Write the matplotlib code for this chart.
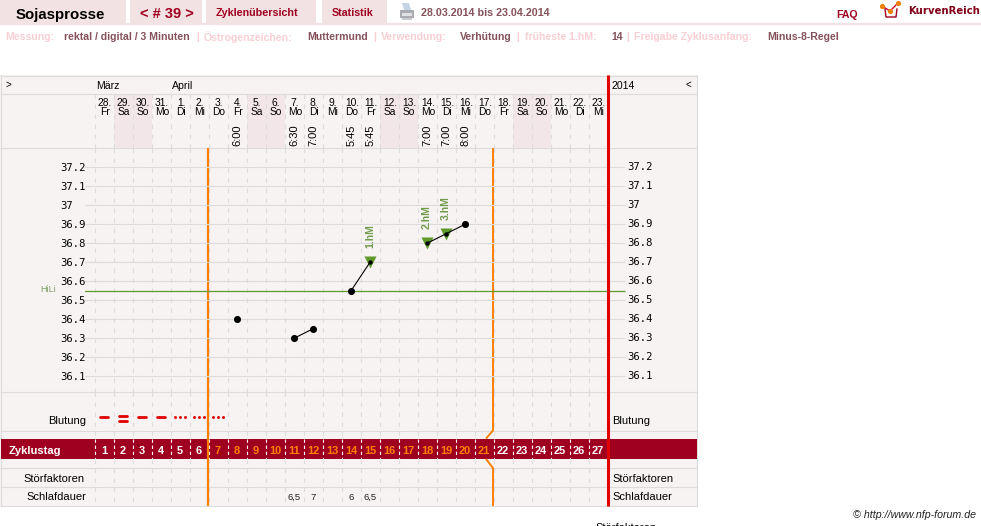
import matplotlib
matplotlib.use("Agg")
import matplotlib.pyplot as plt
from matplotlib.patches import Rectangle, Polygon

W, H = 981, 526
SANS = "Liberation Sans"
MONO = "DejaVu Sans Mono"
MAROON = "#a00020"
DUSTY = "#85525a"
PALE = "#f8cfd2"
TAB = "#f3e2e4"
PANEL = "#f8f3f3"
WEEKEND = "#f3e6e8"
GRID = "#dcdcdc"
ORANGE = "#ff8000"
RED = "#e00000"
GREEN = "#5f9a2a"

# Cycle data
dates = ["28.", "29.", "30.", "31.", "1.", "2.", "3.", "4.", "5.", "6.", "7.", "8.", "9.", "10.",
         "11.", "12.", "13.", "14.", "15.", "16.", "17.", "18.", "19.", "20.", "21.", "22.", "23."]
weekdays = ["Fr", "Sa", "So", "Mo", "Di", "Mi", "Do", "Fr", "Sa", "So", "Mo", "Di", "Mi", "Do",
            "Fr", "Sa", "So", "Mo", "Di", "Mi", "Do", "Fr", "Sa", "So", "Mo", "Di", "Mi"]
cycle_days = list(range(1, 28))
temp_ticks = [37.2, 37.1, 37.0, 36.9, 36.8, 36.7, 36.6, 36.5, 36.4, 36.3, 36.2, 36.1]
temp_labels = ["37.2", "37.1", "37", "36.9", "36.8", "36.7", "36.6", "36.5", "36.4", "36.3", "36.2", "36.1"]
temp_days = [8, 11, 12, 14, 15, 18, 19, 20]
temp_values = [36.4, 36.3, 36.35, 36.55, 36.7, 36.8, 36.85, 36.9]
temp_segments = [(11, 12), (14, 15), (18, 19, 20)]
time_days = [8, 11, 12, 14, 15, 18, 19, 20]
time_labels = ["6:00", "6:30", "7:00", "5:45", "5:45", "7:00", "7:00", "8:00"]
peak_days = [15, 18, 19]
peak_values = [36.7, 36.8, 36.85]
peak_labels = ["1.hM", "2.hM", "3.hM"]
hili = 36.55
sleep_days = [11, 12, 14, 15]
sleep_labels = ["6,5", "7", "6", "6,5"]
heavy_days = [1, 3, 4]
double_days = [2]
spot_days = [5, 6, 7]
orange_days = range(7, 22)

fig = plt.figure(figsize=(W / 100, H / 100), dpi=100, facecolor="white")

# Page layer in pixel units
page = fig.add_axes([0, 0, 1, 1])
page.set_xlim(0, W)
page.set_ylim(H, 0)
page.axis("off")


def box(x0, y0, x1, y1, color, z=1):
    page.add_patch(Rectangle((x0, y0), x1 - x0, y1 - y0, fc=color, ec="none", zorder=z))


def hline(y, x0, x1, color=GRID, lw=0.8, z=2):
    page.plot([x0, x1], [y, y], color=color, lw=lw, zorder=z, solid_capstyle="butt")


def label(x, y, s, size=8, color="black", ha="left", weight="normal", **kw):
    kw.setdefault("family", SANS)
    page.text(x, y, s, fontsize=size, color=color, ha=ha, va="center_baseline", fontweight=weight, **kw)


# Header tabs
for x0, x1 in [(0, 126), (130, 202), (206, 316), (322, 387)]:
    box(x0, 0, x1, 23, TAB)
hline(24, 0, W, color=TAB, lw=1.6)
label(16, 13, "Sojasprosse", 10.8, "black", weight="bold")
label(140, 13, "< # 39 >", 10.5, MAROON, weight="bold")
label(216, 12.5, "Zyklenübersicht", 7.75, MAROON, weight="bold")
label(332, 12.5, "Statistik", 7.7, MAROON, weight="bold")
label(421, 12.5, "28.03.2014 bis 23.04.2014", 7.75, DUSTY, weight="bold")
label(836, 14.5, "FAQ", 7.6, MAROON, weight="bold")
label(908, 10.5, "KurvenReich", 7.3, "#800018", weight="bold", family="DejaVu Sans")

# Printer icon
page.add_patch(Polygon([(402, 3), (409, 3), (411, 10), (404, 10)], fc="#c4d4e2", ec="none", zorder=3))
box(400, 10, 414, 18, "#a9adb1", 3)
box(402, 13, 412, 16, "#dfe2e4", 4)
box(402, 18, 412, 20, "#c8cbce", 3)

# Logo mark
page.plot([885, 886, 896, 897], [9, 17, 17, 9], color=MAROON, lw=1.0, zorder=3)
page.plot([882, 890, 898], [6, 11, 3], color="#c8102e", lw=1.0, zorder=4)
page.scatter([882, 890, 898], [6, 11, 3], s=14, color="#f08000", linewidths=0, zorder=5)

# Settings line
settings = [(5, "Messung:", PALE), (64, "rektal / digital / 3 Minuten", DUSTY), (196, "|", PALE),
            (204, "Östrogenzeichen:", PALE), (307, "Muttermund", DUSTY), (373, "|", PALE),
            (381, "Verwendung:", PALE), (460, "Verhütung", DUSTY), (516, "|", PALE),
            (525, "früheste 1.hM:", PALE), (611, "14", DUSTY), (626, "|", PALE),
            (634, "Freigabe Zyklusanfang:", PALE), (767, "Minus-8-Regel", DUSTY)]
for x, s, c in settings:
    label(x, 36, s, 7.55, c, weight="bold")

# Chart panel
box(0, 75, 697, 506, PANEL, 0)
for y in [75.5, 93.5, 148, 392, 431, 468, 487, 506]:
    hline(y, 0, 697)
page.plot([0.5, 0.5], [75, 506], color=GRID, lw=0.8, zorder=2)
page.plot([697, 697], [75, 506], color=GRID, lw=0.8, zorder=2)

COL = 19.0
X1 = 104.0


def day_x(day):
    return X1 + (day - 1) * COL


# Weekend shading and day header
for i, (d, w) in enumerate(zip(dates, weekdays), start=1):
    x = day_x(i)
    if w in ("Sa", "So"):
        box(x - COL / 2, 94, x + COL / 2, 148, WEEKEND, 1)
    label(x + 1, 102, d, 7.4, "black", ha="center")
    label(x + 1, 111, w, 7.4, "black", ha="center")

# Dashed day separators
for i in range(1, 28):
    x = day_x(i) - COL / 2
    for y0, y1 in [(94, 148), (148, 392), (392, 431), (431, 439), (459, 468), (468, 487), (487, 506)]:
        page.plot([x, x], [y0, y1], color=GRID, lw=0.8, ls=(0, (4, 5)), zorder=2)

for d, t in zip(time_days, time_labels):
    page.text(day_x(d) + 0.5, 145.5, t, fontsize=8, family=SANS, rotation=90,
              ha="center", va="bottom", zorder=5)

label(5, 84, ">", 7)
label(96, 85, "März", 7.6)
label(172, 85, "April", 7.6)
label(612, 85, "2014", 7.6)
label(686, 84, "<", 7)

# Temperature plot: pixel extents 85..607 and 148..392
ax = fig.add_axes([85 / W, 1 - 392 / H, (607 - 85) / W, (392 - 148) / H])
ax.patch.set_alpha(0)
ax.set_xlim((85 - X1) / COL + 1, (607 - X1) / COL + 1)
ax.set_ylim(36.1 - (392 - 376.3) / 190, 37.2 + (167.3 - 148) / 190)
for s in ax.spines.values():
    s.set_visible(False)
ax.set_xticks([])
ax.set_yticks(temp_ticks)
ax.set_yticklabels(temp_labels, family=MONO, fontsize=7.6)
ax.tick_params(axis="y", length=0, pad=18)
ax.grid(axis="y", color=GRID, lw=0.8, zorder=1)
ax.set_axisbelow(True)
for tl in ax.get_yticklabels():
    tl.set_horizontalalignment("left")

# Grid continues past the red line to the right-hand scale
for t, s in zip(temp_ticks, temp_labels):
    yp = 167.3 + (37.2 - t) * 190
    hline(yp, 607, 625)
    page.text(627, yp, s, fontsize=7.6, family=MONO, va="center", ha="left")

ax.axhline(hili, color=GREEN, lw=0.9, zorder=2)
hline(167.3 + (37.2 - hili) * 190, 607, 625, color=GREEN, lw=0.9, z=3)
page.text(40, 289, "HiLi", fontsize=6.5, family=SANS, color="#7f9f6a", va="center")

value_at = dict(zip(temp_days, temp_values))
plain_days = [d for d in temp_days if d not in peak_days]
ax.annotate
for d, v in zip(peak_days, peak_values):
    # Triangle sits slightly above the reading it marks
    ax.annotate("", (d, v))
ax.scatter(peak_days, peak_values, marker="v", s=75, color=GREEN, zorder=3, linewidths=0)
for seg in temp_segments:
    ax.plot(seg, [value_at[d] for d in seg], color="black", lw=0.8, zorder=4)
ax.scatter(plain_days, [value_at[d] for d in plain_days], s=26, color="black", zorder=5, linewidths=0)
ax.scatter(peak_days, peak_values, s=10, color="black", zorder=6, linewidths=0)
for d, v, s in zip(peak_days, peak_values, peak_labels):
    ax.annotate(s, (d, v), xytext=(0, 14), textcoords="offset pixels", rotation=90,
                ha="center", va="bottom", fontsize=7.5, fontweight="bold", family=SANS,
                color="#6f9a4a", zorder=6)

# Cycle band
box(1, 439, 697, 458.5, MAROON, 3)
label(9, 449.5, "Zyklustag", 8, "white", weight="bold", zorder=6)
for d in cycle_days:
    c = ORANGE if d in orange_days else "white"
    label(day_x(d), 449.5, str(d), 7.9, c, ha="center", weight="bold", zorder=6)
    x = day_x(d) - COL / 2
    page.plot([x, x], [439, 459], color="white", lw=0.8, ls=(0, (3, 2.5)), zorder=5)

# Bleeding marks
for d in heavy_days + double_days:
    ys = [416.5] if d in heavy_days else [416, 420.5]
    for y in ys:
        page.plot([day_x(d) - 4.2, day_x(d) + 4.2], [y, y], color=RED, lw=2.0,
                  solid_capstyle="round", zorder=5)
for d in spot_days:
    page.scatter([day_x(d) - 5, day_x(d), day_x(d) + 5], [416.5] * 3, s=4.5, color=RED,
                 linewidths=0, zorder=5)

label(86, 420.5, "Blutung", 8, "black", ha="right")
label(612, 420.5, "Blutung", 8)
label(85, 477.5, "Störfaktoren", 8, "black", ha="right")
label(612, 477.5, "Störfaktoren", 8)
label(86, 496.5, "Schlafdauer", 8, "black", ha="right")
label(612, 496.5, "Schlafdauer", 8)
for d, s in zip(sleep_days, sleep_labels):
    label(day_x(d) + 0.5, 496.5, s, 6.8, "#222222", ha="center")

# Cycle phase boundaries
page.plot([208, 208], [148, 506], color=ORANGE, lw=1.6, zorder=6, solid_capstyle="butt")
page.plot([493, 493, 486], [148, 430.5, 438.5], color=ORANGE, lw=1.4, zorder=6, solid_capstyle="butt")
page.plot([486, 493, 493], [459, 468, 506], color=ORANGE, lw=1.4, zorder=6, solid_capstyle="butt")
page.plot([607.5, 607.5], [75, 506], color=RED, lw=2.2, zorder=7, solid_capstyle="butt")

# Footer
label(853, 514, "© http://www.nfp-forum.de", 7.7, "#222222", style="italic")
label(595, 527, "Störfaktoren", 8)

fig.savefig("out.png", dpi=100)
